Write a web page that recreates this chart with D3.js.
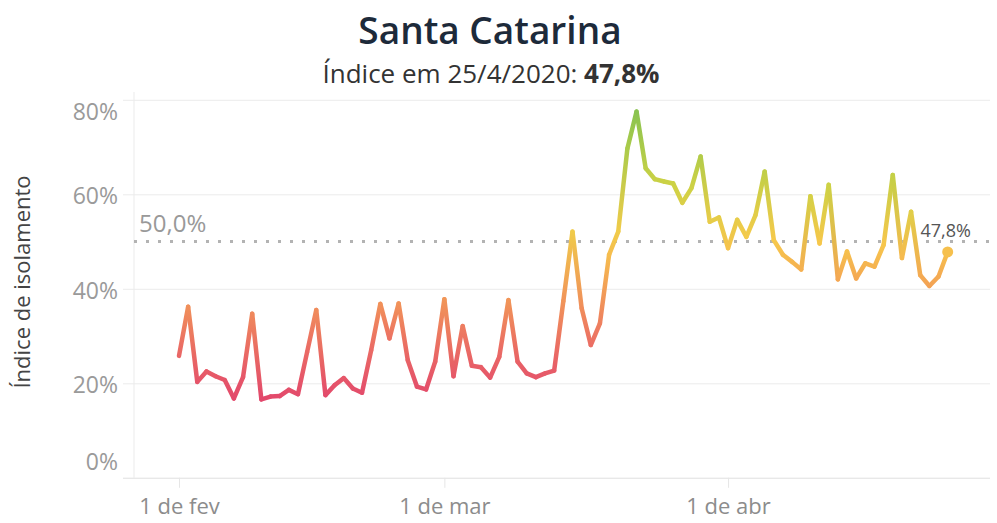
<!DOCTYPE html>
<html>
<head>
<meta charset="utf-8">
<script src="https://cdn.jsdelivr.net/npm/d3@7"></script>
<style>
  body { margin: 0; background: #fff; }
  text { font-family: "Open Sans", "Lato", sans-serif; }
</style>
</head>
<body>
<div id="chart"></div>
<script>
// daily isolation index, starting 1 Feb 2020
const startDate = new Date(2020, 1, 1)
const values = [
  25.8, 36.2, 20.3, 22.5, 21.5, 20.7, 16.8, 21.3, 34.7, 16.6,
  17.2, 17.3, 18.6, 17.7, 26.6, 35.5, 17.5, 19.6, 21.1, 18.9,
  18.0, 27.0, 36.8, 29.5, 36.9, 24.9, 19.3, 18.7, 24.6, 37.8,
  21.5, 32.1, 23.7, 23.4, 21.2, 25.6, 37.6, 24.6, 22.1, 21.3,
  22.1, 22.7, 37.4, 52.1, 35.9, 28.1, 32.7, 47.2, 52.1, 69.7,
  77.5, 65.5, 63.2, 62.7, 62.3, 58.2, 61.3, 68.0, 54.2, 55.1,
  48.6, 54.6, 51.0, 55.6, 64.8, 50.3, 47.2, 45.7, 44.1, 59.6,
  49.6, 62.0, 42.0, 47.9, 42.2, 45.4, 44.7, 49.3, 64.1, 46.5,
  56.3, 42.9, 40.6, 42.6, 47.8
]
const yTicks = [0, 20, 40, 60, 80]
const xTicks = [new Date(2020, 1, 1), new Date(2020, 2, 1), new Date(2020, 3, 1)]
const monthNames = ["jan", "fev", "mar", "abr", "mai"]
const referenceValue = 50
const colorDomain = [16, 30, 40, 50, 62, 78]
const colorRange = ["#e2466c", "#ec7463", "#f39f55", "#f7c94b", "#cdd245", "#87c350"]

const data = values.map((v, i) => ({ date: d3.timeDay.offset(startDate, i), value: v }))
const last = data[data.length - 1]

const W = 997, H = 523

const svg = d3.select('#chart')
  .append('svg')
  .attr('width', W)
  .attr('height', H)

// scales
const xScale = d3.scaleTime()
  .domain([new Date(2020, 0, 27, 2), new Date(2020, 3, 29, 15)])
  .range([134, 990])

const yScale = d3.scaleLinear()
  .domain([0, 80])
  .range([477.8, 99.8])

const color = d3.scaleLinear().domain(colorDomain).range(colorRange)

const fmt = v => d3.format(".1f")(v).replace(".", ",") + "%"

// title
svg.append('text')
  .attr('x', 490).attr('y', 44)
  .attr('text-anchor', 'middle')
  .attr('font-size', 37).attr('font-weight', 600)
  .attr('fill', '#1d2a3a')
  .text('Santa Catarina')

const sub = svg.append('text')
  .attr('x', 491).attr('y', 83)
  .attr('text-anchor', 'middle')
  .attr('font-size', 26)
  .attr('fill', '#333')
sub.append('tspan').text('Índice em 25/4/2020: ')
sub.append('tspan').attr('font-weight', 700).text(fmt(last.value))

// y axis + gridlines
const yAxisGroup = svg.append('g')
  .attr('transform', 'translate(123,0)')
  .call(d3.axisLeft(yScale).tickValues(yTicks).tickSize(-867).tickPadding(5).tickFormat(d => d + '%'))

yAxisGroup.select('.domain').remove()
yAxisGroup.selectAll('.tick line').attr('stroke', '#ebebeb')
yAxisGroup.selectAll('.tick text')
  .attr('fill', '#9a9a9a')
  .attr('font-size', 23)
  .attr('dy', d => d === 80 ? '0.85em' : d === 0 ? '-0.35em' : '0.4em')

// pane left border
svg.append('line')
  .attr('x1', 134).attr('x2', 134)
  .attr('y1', 92).attr('y2', yScale(0))
  .attr('stroke', '#ebebeb')

// x axis
const xAxisGroup = svg.append('g')
  .attr('transform', `translate(0, ${yScale(0)})`)
  .call(d3.axisBottom(xScale).tickValues(xTicks).tickSize(10).tickPadding(11)
    .tickFormat(d => d.getDate() + ' de ' + monthNames[d.getMonth()]))

xAxisGroup.select('.domain').attr('d', `M123,0.5H990`).attr('stroke', '#e6e6e6')
xAxisGroup.selectAll('.tick line').attr('stroke', '#e6e6e6')
xAxisGroup.selectAll('.tick text').attr('fill', '#8c8c8c').attr('font-size', 22)

// y axis title
svg.append('text')
  .attr('transform', `translate(30, ${282}) rotate(-90)`)
  .attr('text-anchor', 'middle')
  .attr('font-size', 22)
  .attr('fill', '#444')
  .text('Índice de isolamento')

// reference line 50%
svg.append('line')
  .attr('x1', 134).attr('x2', 990)
  .attr('y1', yScale(referenceValue)).attr('y2', yScale(referenceValue))
  .attr('stroke', '#b3b3b3')
  .attr('stroke-width', 3)
  .attr('stroke-dasharray', '3 9')

svg.append('text')
  .attr('x', 139).attr('y', yScale(referenceValue) - 10)
  .attr('font-size', 24)
  .attr('fill', '#999')
  .text(fmt(referenceValue))

// line, one segment per day with gradient between the two values
const defs = svg.append('defs')
const elementGroup = svg.append('g').attr('id', 'elementGroup')

d3.pairs(data).forEach(([a, b], i) => {
  const grad = defs.append('linearGradient')
    .attr('id', 'seg' + i)
    .attr('gradientUnits', 'userSpaceOnUse')
    .attr('x1', xScale(a.date)).attr('y1', yScale(a.value))
    .attr('x2', xScale(b.date)).attr('y2', yScale(b.value))
  grad.append('stop').attr('offset', 0).attr('stop-color', color(a.value))
  grad.append('stop').attr('offset', 1).attr('stop-color', color(b.value))

  elementGroup.append('path')
    .attr('d', d3.line().x(d => xScale(d.date)).y(d => yScale(d.value))([a, b]))
    .attr('fill', 'none')
    .attr('stroke', `url(#seg${i})`)
    .attr('stroke-width', 4.5)
    .attr('stroke-linecap', 'round')
})

// last point
elementGroup.append('circle')
  .attr('cx', xScale(last.date))
  .attr('cy', yScale(last.value))
  .attr('r', 5.5)
  .attr('fill', color(last.value))

elementGroup.append('text')
  .attr('x', xScale(last.date) - 2)
  .attr('y', yScale(referenceValue) - 5)
  .attr('text-anchor', 'middle')
  .attr('font-size', 18)
  .attr('fill', '#555')
  .text(fmt(last.value))
</script>
</body>
</html>
